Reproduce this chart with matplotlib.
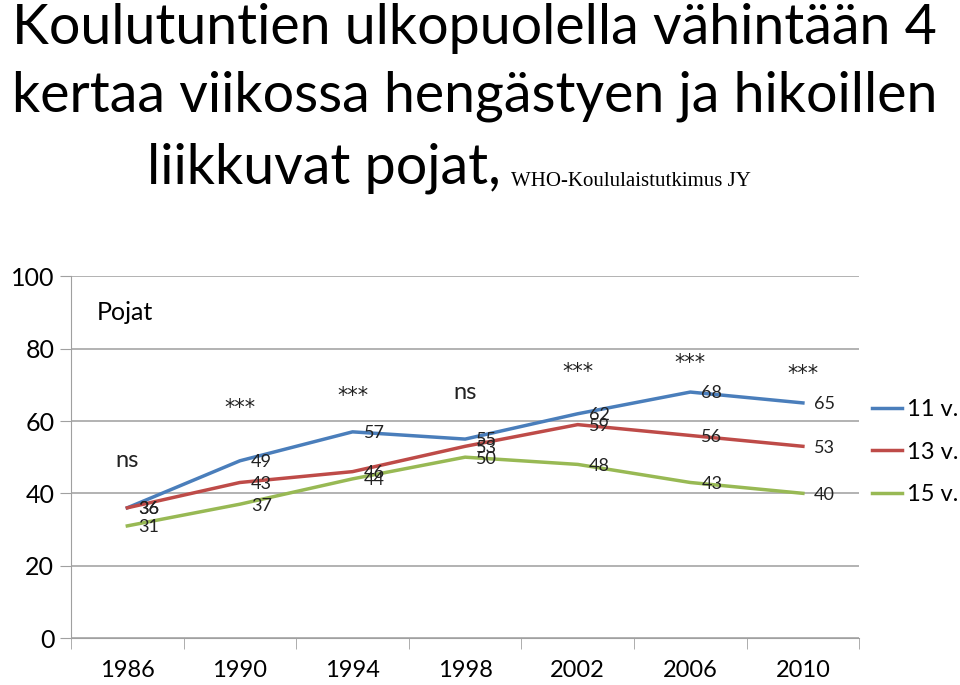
import numpy as np
import matplotlib.pyplot as plt

# Data
years = ['1986', '1990', '1994', '1998', '2002', '2006', '2010']
age11 = [36, 49, 57, 55, 62, 68, 65]
age13 = [36, 43, 46, 53, 59, 56, 53]
age15 = [31, 37, 44, 50, 48, 43, 40]
series_names = ['11 v.', '13 v.', '15 v.']
signif = ['ns', '***', '***', 'ns', '***', '***', '***']
signif_y = [49, 65, 68.5, 68, 75, 77.5, 74.5]

colors = ['#4a7ebb', '#be4b48', '#98b954']
plt.rcParams['font.family'] = ['Lato', 'DejaVu Sans']

fig = plt.figure(figsize=(9.6, 6.85), dpi=100)
ax = fig.add_axes([0.074, 0.0686, 0.821, 0.528])

x = np.arange(len(years))
for vals, name, c in zip([age11, age13, age15], series_names, colors):
    ax.plot(x, vals, color=c, lw=2.5, label=name)
    for xi, v in zip(x, vals):
        ax.annotate(str(v), (xi, v), xytext=(8, -1), textcoords='offset points',
                    ha='left', va='center', fontsize=13, color='#222222')

# significance marks
for xi, s, sy in zip(x, signif, signif_y):
    if s == 'ns':
        ax.text(xi, sy, s, ha='center', va='center', fontsize=17, color='#222222')
    else:
        ax.text(xi, sy - 1.5, s, ha='center', va='center', fontsize=15,
                color='#222222', family='DejaVu Sans')

ax.text(0.033, 0.9, 'Pojat', transform=ax.transAxes, fontsize=18,
        ha='left', va='center')

ax.set_xlim(-0.5, 6.5)
ax.set_ylim(0, 100)
ax.set_yticks([0, 20, 40, 60, 80, 100])
ax.set_xticks(x)
ax.set_xticklabels(years, fontsize=17)
ax.set_xticks(np.arange(-0.5, 7, 1), minor=True)
ax.tick_params(axis='x', which='major', length=0, pad=16)
ax.tick_params(axis='x', which='minor', length=8, color='#a0a0a0', direction='out')
ax.tick_params(axis='y', labelsize=18, length=8, color='#a0a0a0', pad=4)
ax.grid(axis='y', color='#a6a6a6', lw=1.2)
ax.set_axisbelow(True)
for sp in ['top', 'right']:
    ax.spines[sp].set_visible(False)
ax.spines['left'].set_color('#a0a0a0')
ax.spines['bottom'].set_color('#a0a0a0')

fig.legend(loc='center left', bbox_to_anchor=(0.908, 0.34), frameon=False,
           fontsize=17, handlelength=1.3, handletextpad=0.2, labelspacing=0.9,
           borderpad=0, borderaxespad=0)

# Title
fig.text(0.012, 0.958, 'Koulutuntien ulkopuolella vähintään 4', fontsize=40,
         ha='left', va='center')
fig.text(0.012, 0.86, 'kertaa viikossa hengästyen ja hikoillen', fontsize=40,
         ha='left', va='center')
fig.text(0.153, 0.755, 'liikkuvat pojat,', fontsize=40, ha='left', va='center')
fig.text(0.532, 0.735, 'WHO-Koululaistutkimus JY', fontsize=15, ha='left',
         va='center', family='Liberation Serif')

fig.savefig('out.png', dpi=100)
